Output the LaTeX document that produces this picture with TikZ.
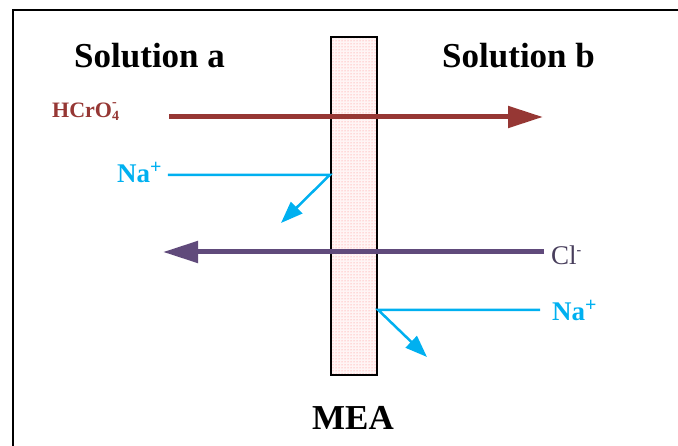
\documentclass[tikz,border=0pt]{standalone}
\usepackage{fontspec}
\setmainfont{Liberation Serif}
\usetikzlibrary{arrows.meta,patterns}

\definecolor{chromred}{RGB}{150,55,52}
\definecolor{naBlue}{RGB}{0,176,240}
\definecolor{clPurple}{RGB}{96,74,123}
\definecolor{clText}{RGB}{72,62,92}

\newcommand{\smallidx}{\fontsize{14}{14}\selectfont}

\tikzset{
  heading/.style={font=\bfseries\fontsize{35}{40}\selectfont, inner sep=0pt, anchor=base west},
  ion/.style={font=\bfseries\fontsize{27}{30}\selectfont, inner sep=0pt, anchor=base west},
  flux/.style={line width=5pt, -{Triangle[length=35pt,width=21pt]}},
  jump/.style={line width=2.5pt, naBlue, -{Triangle[length=22pt,width=16pt]}},
}

\begin{document}
\begin{tikzpicture}[x=1pt,y=-1pt]
  \useasboundingbox (0,0) rectangle (678,446);
  % frame
  \draw[line width=2pt] (13,446) -- (13,10) -- (678,10);

  % membrane
  \fill[red!4] (331,37) rectangle (377,375);
  \node[draw, line width=2.5pt, pattern=dots, pattern color=red!50,
        minimum width=46pt, minimum height=338pt, inner sep=0pt] (mem) at (354,206) {};

  % titles
  \node[heading] (solA) at (74,68) {Solution a};
  \node[heading] (solB) at (442,68) {Solution b};
  \node[heading] (mea) at (312,430) {MEA};

  % ion labels
  \node[ion, chromred, font=\bfseries\fontsize{22}{26}\selectfont] (hcro) at (52,118)
    {HCrO\rlap{\raisebox{11pt}{\smallidx-}}\raisebox{-3pt}{\smallidx 4}};
  \node[ion, naBlue] (naL) at (117,183) {Na\raisebox{9pt}{\fontsize{20}{20}\selectfont+}};
  \node[ion, clText, font=\fontsize{27}{30}\selectfont] (cl) at (551,265) {Cl\raisebox{10pt}{\smallidx\bfseries-}};
  \node[ion, naBlue] (naR) at (552,321) {Na\raisebox{9pt}{\fontsize{20}{20}\selectfont+}};

  % fluxes across the membrane
  \coordinate (crFrom) at (169,117);
  \coordinate (crTo) at (543,117);
  \coordinate (clFrom) at (544,252);
  \coordinate (clTo) at (163,252);
  \draw[flux, chromred] (crFrom) -- (crTo);
  \draw[flux, clPurple] (clFrom) -- (clTo);

  % Na+ rejected at both faces
  \coordinate (naTurnL) at (mem.west |- 0,175);
  \coordinate (naEndL) at (281,223);
  \coordinate (naTurnR) at (mem.east |- 0,310);
  \coordinate (naEndR) at (427,357);
  \draw[jump] ([xshift=6pt]naL.east |- naTurnL) -- (naTurnL) -- (naEndL);
  \draw[jump] (540,310) -- (naTurnR) -- (naEndR);
\end{tikzpicture}
\end{document}
